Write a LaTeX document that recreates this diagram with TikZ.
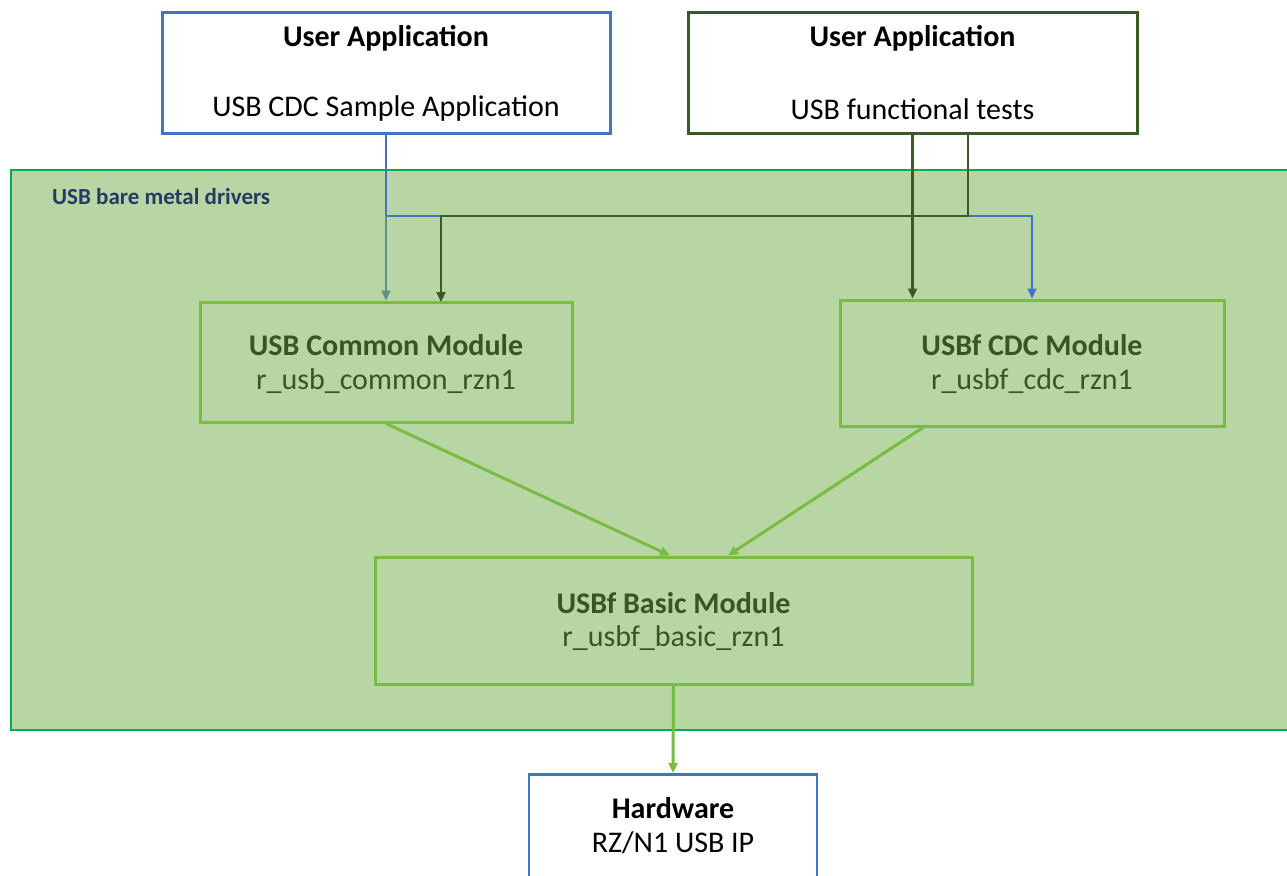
\documentclass[tikz,border=0pt]{standalone}
\usepackage{fontspec}
\setmainfont{Carlito}
\usetikzlibrary{arrows.meta,calc}
\definecolor{appblue}{HTML}{4472C4}
\definecolor{appgreen}{HTML}{3A5A26}
\definecolor{modgreen}{HTML}{78BC44}
\definecolor{contfill}{HTML}{B8D6A4}
\definecolor{contborder}{HTML}{00B050}
\definecolor{modtext}{HTML}{375623}
\definecolor{lbltext}{HTML}{263A66}
\definecolor{tealline}{HTML}{5E8F8C}
\tikzset{
  appbox/.style={draw, line width=3pt, fill=white, inner sep=0pt},
  modbox/.style={draw=modgreen, line width=3pt, inner sep=0pt},
  ttl/.style={font=\fontsize{30}{36}\selectfont\bfseries, inner sep=0pt},
  sub/.style={font=\fontsize{30}{36}\selectfont, inner sep=0pt},
  arr/.style={-{Triangle[length=10pt,width=9pt]}},
}
\begin{document}
\begin{tikzpicture}[x=1pt,y=-1pt]
\clip (0,0) rectangle (1287,875);
\fill[white] (0,0) rectangle (1287,875);
% container
\node[draw=contborder, fill=contfill, line width=2pt, minimum width=1290pt, minimum height=560pt, inner sep=0pt, anchor=north west] (cont) at (10,169) {};
\node[anchor=west, font=\fontsize{23}{27}\selectfont\bfseries, text=lbltext, inner sep=0pt] (contlbl) at (52,197) {USB bare metal drivers};
% application boxes
\node[appbox, draw=appblue, minimum width=448pt, minimum height=120pt] (appL) at (386,73) {};
\node[ttl] (appLt) at (386,38) {User Application};
\node[sub] (appLs) at (386,109) {USB CDC Sample Application};
\node[appbox, draw=appgreen, minimum width=449pt, minimum height=120pt] (appR) at (912.5,73) {};
\node[ttl] (appRt) at (912.5,38) {User Application};
\node[sub] (appRs) at (912.5,109) {USB functional tests};
% modules
\node[modbox, minimum width=372pt, minimum height=120pt] (common) at (386,362) {};
\node[ttl, text=modtext] (commont) at (386,345) {USB Common Module};
\node[sub, text=modtext] (commons) at (386,381) {r\_usb\_common\_rzn1};
\node[modbox, minimum width=384pt, minimum height=126pt] (cdc) at (1032,363) {};
\node[ttl, text=modtext] (cdct) at (1032,345) {USBf CDC Module};
\node[sub, text=modtext] (cdcs) at (1032,381) {r\_usbf\_cdc\_rzn1};
\node[modbox, minimum width=597pt, minimum height=127pt] (basic) at (673.5,620.5) {};
\node[ttl, text=modtext] (basict) at (673.5,603) {USBf Basic Module};
\node[sub, text=modtext] (basics) at (673.5,638) {r\_usbf\_basic\_rzn1};
% hardware
\node[appbox, draw=appblue, line width=2.5pt, minimum width=288pt, minimum height=120pt, anchor=north] (hw) at (673,773) {};
\node[ttl] (hwt) at (673,808) {Hardware};
\node[sub] (hws) at (673,843) {RZ/N1 USB IP};
% connectors
\coordinate (jL) at (386,216);
\coordinate (jR) at (968,216);
\coordinate (srcR) at (968,133);
\coordinate (dstC) at (441,302);
\draw[appblue, line width=2pt, arr] (appL.south) -- (jL) -| (cdc.north);
\draw[tealline, line width=2pt, arr] (jL) -- (common.north);
\draw[appgreen, line width=2.2pt, arr] (srcR) -- (jR) -| (dstC);
\draw[appgreen, line width=2.2pt, arr] (appR.south) -- (appR.south |- cdc.north);
\draw[modgreen, line width=3pt, arr] (common.south) -- ($(basic.north)+(-3.5,0)$);
\draw[modgreen, line width=3pt, arr] ($(cdc.south)+(-109,0)$) -- ($(basic.north)+(54.5,0)$);
\draw[modgreen, line width=3pt, arr] (basic.south) -- (hw.north);
\end{tikzpicture}
\end{document}
